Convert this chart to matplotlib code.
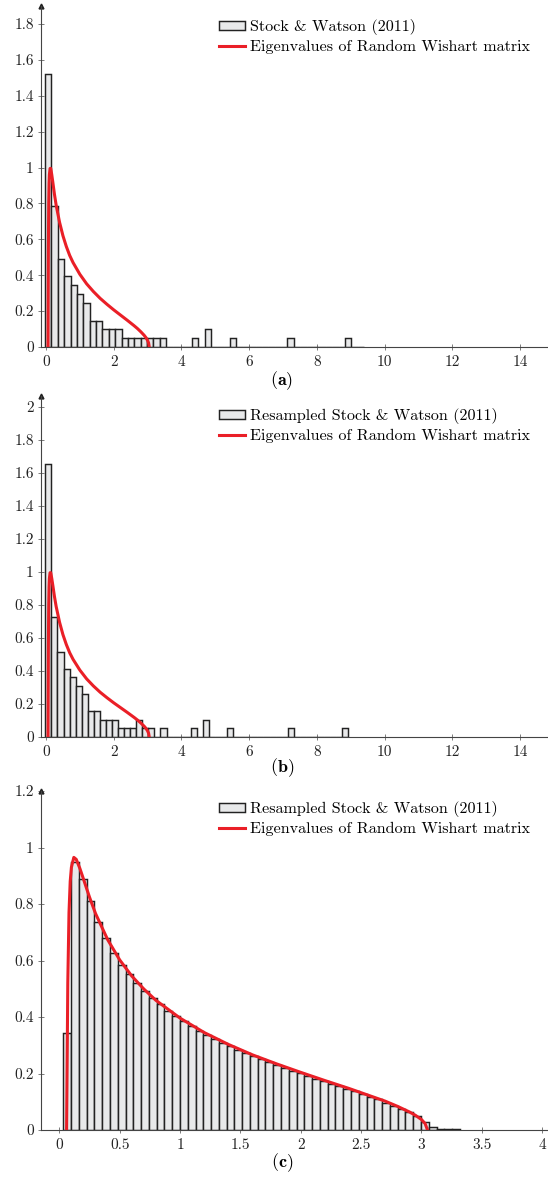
import matplotlib
matplotlib.use('Agg')
import matplotlib.pyplot as plt
import numpy as np
from matplotlib.ticker import FuncFormatter

plt.rcParams['font.family'] = 'cmr10'
plt.rcParams['mathtext.fontset'] = 'cm'
plt.rcParams['axes.unicode_minus'] = False

# ---- data ----
# histogram (a): first edge, bin width, density per bin
bins_a = (-0.03, 0.1885)
heights_a = [1.52, 0.785, 0.49, 0.393, 0.344, 0.295, 0.245, 0.147, 0.147, 0.098,
             0.098, 0.098, 0.049, 0.049, 0.049, 0.049, 0.049, 0.049, 0.049, 0.0,
             0.0, 0.0, 0.0, 0.049, 0.0, 0.098, 0.0, 0.0, 0.0, 0.049,
             0.0, 0.0, 0.0, 0.0, 0.0, 0.0, 0.0, 0.0, 0.049, 0.0,
             0.0, 0.0, 0.0, 0.0, 0.0, 0.0, 0.0, 0.049, 0.0, 0.0]

# histogram (b)
bins_b = (-0.02, 0.179)
heights_b = [1.655, 0.724, 0.517, 0.414, 0.362, 0.31, 0.259, 0.155, 0.155, 0.103,
             0.103, 0.103, 0.052, 0.052, 0.052, 0.103, 0.052, 0.052, 0.0, 0.052,
             0.0, 0.0, 0.0, 0.0, 0.052, 0.0, 0.103, 0.0, 0.0, 0.0,
             0.052, 0.0, 0.0, 0.0, 0.0, 0.0, 0.0, 0.0, 0.0, 0.0,
             0.052, 0.0, 0.0, 0.0, 0.0, 0.0, 0.0, 0.0, 0.0, 0.052]

# histogram (c)
bins_c = (0.0334, 0.0644)
heights_c = [0.345, 0.948, 0.890, 0.810, 0.736, 0.678, 0.628, 0.584, 0.551, 0.521,
             0.491, 0.466, 0.445, 0.422, 0.404, 0.385, 0.367, 0.350, 0.336, 0.322,
             0.309, 0.296, 0.284, 0.272, 0.261, 0.250, 0.240, 0.230, 0.220, 0.210,
             0.201, 0.192, 0.182, 0.173, 0.164, 0.155, 0.146, 0.137, 0.127, 0.118,
             0.108, 0.097, 0.086, 0.075, 0.062, 0.050, 0.029, 0.012, 0.004, 0.003,
             0.003]

# red curve (eigenvalue density of random Wishart matrix)
curve_x = [0.06, 0.07, 0.08, 0.09, 0.10, 0.12, 0.14, 0.17, 0.20, 0.25,
           0.30, 0.40, 0.50, 0.60, 0.70, 0.80, 1.00, 1.20, 1.40, 1.60,
           1.80, 2.00, 2.20, 2.40, 2.60, 2.70, 2.80, 2.90, 2.95, 3.00,
           3.03, 3.05]
curve_ab = [0.0, 0.55, 0.80, 0.91, 0.96, 0.995, 0.995, 0.96, 0.92, 0.85,
            0.79, 0.695, 0.62, 0.56, 0.51, 0.47, 0.405, 0.352, 0.309, 0.271,
            0.238, 0.207, 0.178, 0.149, 0.119, 0.103, 0.085, 0.065, 0.053, 0.037,
            0.023, 0.0]
curve_c = [0.0, 0.52, 0.77, 0.88, 0.93, 0.965, 0.958, 0.926, 0.888, 0.824,
           0.766, 0.674, 0.602, 0.545, 0.499, 0.459, 0.396, 0.345, 0.303, 0.266,
           0.234, 0.204, 0.175, 0.147, 0.117, 0.102, 0.084, 0.064, 0.052, 0.037,
           0.023, 0.0]

label_curve = 'Eigenvalues of Random Wishart matrix'

W, H = 548, 1179
fig = plt.figure(figsize=(W / 100, H / 100), dpi=100)


def fmt(v, pos):
    return '%g' % v


def draw_panel(box, bins, heights, cy, bar_label, xlim, ylim, xticks, yticks, tag, tag_y, leg_dy):
    # box: left, top, right, bottom in pixels
    l, t, r, b = box
    ax = fig.add_axes([l / W, 1 - b / H, (r - l) / W, (b - t) / H])
    x0, w = bins
    lefts = x0 + w * np.arange(len(heights))
    bars = ax.bar(lefts, heights, width=w, align='edge', color='#e8e9ea',
                  edgecolor='#222222', linewidth=1.05, zorder=2, label=bar_label)
    line, = ax.plot(curve_x, cy, color='#ea1f27', linewidth=2.2, zorder=3,
                    solid_joinstyle='round', label=label_curve)
    ax.set_xlim(*xlim)
    ax.set_ylim(*ylim)
    ax.set_xticks(xticks)
    ax.set_yticks(yticks)
    ax.xaxis.set_major_formatter(FuncFormatter(fmt))
    ax.yaxis.set_major_formatter(FuncFormatter(fmt))
    for s in ['top', 'right']:
        ax.spines[s].set_visible(False)
    for s in ['left', 'bottom']:
        ax.spines[s].set_color('#444444')
        ax.spines[s].set_linewidth(0.8)
    ax.tick_params(direction='inout', length=4, width=0.6, color='#666666',
                   labelsize=11, labelcolor='#222222')
    ax.tick_params(axis='y', pad=3.2)
    ax.tick_params(axis='x', pad=4.2)
    ax.plot([0], [1], marker='^', markersize=3.5, color='#222222',
            transform=ax.transAxes, clip_on=False)
    ax.legend(handles=[bars, line], loc='upper left',
              bbox_to_anchor=(219 / W, 1 - (t + leg_dy) / H), bbox_transform=fig.transFigure,
              frameon=False, fontsize=11.6, borderpad=0, borderaxespad=0,
              handlelength=1.6, handleheight=0.45, handletextpad=0.35, labelspacing=0.28)
    fig.text(282 / W, 1 - tag_y / H, r'$(\mathbf{%s})$' % tag, ha='center', va='center',
             fontsize=13)
    return ax


draw_panel((41, 6, 547, 347), bins_a, heights_a, curve_ab, 'Stock & Watson (2011)',
           (-0.148, 14.80), (0, 1.9), np.arange(0, 15, 2), np.arange(0, 1.81, 0.2), 'a', 381, 13)
draw_panel((41, 396, 547, 737), bins_b, heights_b, curve_ab, 'Resampled Stock & Watson (2011)',
           (-0.148, 14.80), (0, 2.065), np.arange(0, 15, 2), np.arange(0, 2.01, 0.2), 'b', 768, 12)
draw_panel((41, 791, 547, 1130), bins_c, heights_c, curve_c, 'Resampled Stock & Watson (2011)',
           (-0.152, 4.04), (0, 1.2), np.arange(0, 4.01, 0.5), np.arange(0, 1.21, 0.2), 'c', 1163, 10)

fig.savefig('out.png', dpi=100)
